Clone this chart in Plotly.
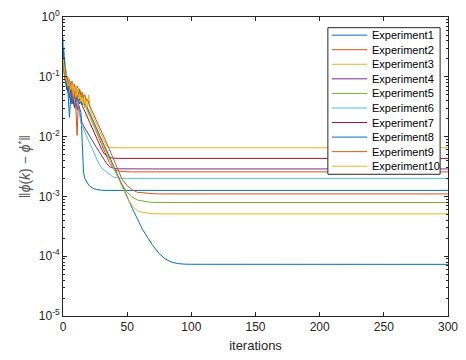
import plotly.graph_objects as go

# ---------------- data ----------------
iterations = list(range(0, 25)) + [26, 28, 30, 32, 34, 36, 38, 40, 43, 46, 50, 54, 58,
                                   62, 66, 70, 75, 80, 85, 90, 95, 100, 300]

exp1 = [0.35, 0.18, 0.10, 0.07, 0.05, 0.021, 0.045, 0.05, 0.035, 0.05, 0.038, 0.045, 0.035,
        0.029, 0.025, 0.0079, 0.0025, 0.002, 0.0018, 0.00165, 0.00155, 0.00147, 0.00142, 0.00138, 0.00135,
        0.00131, 0.00128, 0.00127, 0.00126, 0.00126, 0.00126, 0.00126, 0.00126, 0.00126, 0.00126,
        0.00126, 0.00126, 0.00126, 0.00126, 0.00126, 0.00126, 0.00126, 0.00126, 0.00126, 0.00126,
        0.00126, 0.00126, 0.00126]
exp2 = [0.25, 0.18, 0.12, 0.10, 0.08, 0.09, 0.07, 0.085, 0.06, 0.075, 0.055, 0.07, 0.063,
        0.056, 0.049, 0.0437, 0.039, 0.0347, 0.0302, 0.0269, 0.024, 0.0214, 0.019, 0.0168, 0.0148,
        0.0117, 0.0093, 0.0072, 0.0058, 0.0046, 0.0037, 0.0032, 0.0028, 0.00265, 0.0026, 0.00258,
        0.00257, 0.00257, 0.00257, 0.00257, 0.00257, 0.00257, 0.00257, 0.00257, 0.00257, 0.00257,
        0.00257, 0.00257]
exp3 = [0.22, 0.15, 0.11, 0.09, 0.10, 0.07, 0.085, 0.06, 0.075, 0.05, 0.07, 0.045, 0.06,
        0.04, 0.055, 0.035, 0.05, 0.03, 0.045, 0.028, 0.05, 0.03, 0.025, 0.0225, 0.0204,
        0.0162, 0.0132, 0.0105, 0.0085, 0.0069, 0.0066, 0.0065, 0.0065, 0.0065, 0.0065, 0.0065,
        0.0065, 0.0065, 0.0065, 0.0065, 0.0065, 0.0065, 0.0065, 0.0065, 0.0065, 0.0065,
        0.0065, 0.0065]
exp4 = [0.15, 0.10, 0.08, 0.06, 0.065, 0.045, 0.055, 0.035, 0.045, 0.03, 0.04, 0.028, 0.035,
        0.025, 0.02, 0.0166, 0.0151, 0.0138, 0.0126, 0.0117, 0.0107, 0.01, 0.0091, 0.0085, 0.0078,
        0.0066, 0.0056, 0.0048, 0.0041, 0.00355, 0.00316, 0.00299, 0.00292, 0.00289, 0.00288,
        0.00288, 0.00288, 0.00288, 0.00288, 0.00288, 0.00288, 0.00288, 0.00288, 0.00288, 0.00288,
        0.00288, 0.00288, 0.00288]
exp5 = [0.16, 0.11, 0.08, 0.09, 0.065, 0.075, 0.055, 0.07, 0.05, 0.065, 0.048, 0.06, 0.05,
        0.063, 0.045, 0.05, 0.038, 0.035, 0.031, 0.0282, 0.0251, 0.0228, 0.0204, 0.0182, 0.0162,
        0.0132, 0.0107, 0.0085, 0.0069, 0.0055, 0.00447, 0.00363, 0.00288, 0.00214, 0.00158,
        0.00117, 0.00098, 0.00087, 0.00083, 0.00081, 0.000795, 0.00079, 0.00079, 0.00079, 0.00079,
        0.00079, 0.00079, 0.00079]
exp6 = [0.47, 0.22, 0.13, 0.10, 0.075, 0.085, 0.06, 0.07, 0.05, 0.06, 0.04, 0.045, 0.03,
        0.022, 0.0166, 0.0148, 0.0132, 0.0117, 0.0105, 0.0093, 0.0083, 0.0074, 0.0066, 0.0059, 0.0052,
        0.0042, 0.0035, 0.003, 0.00275, 0.00257, 0.00234, 0.00219, 0.00209, 0.00202, 0.002,
        0.002, 0.002, 0.002, 0.002, 0.002, 0.002, 0.002, 0.002, 0.002, 0.002,
        0.002, 0.002, 0.002]
exp7 = [0.30, 0.15, 0.10, 0.09, 0.07, 0.08, 0.055, 0.065, 0.05, 0.06, 0.045, 0.05, 0.04,
        0.042, 0.036, 0.033, 0.0295, 0.0263, 0.0234, 0.0209, 0.0186, 0.0166, 0.0151, 0.0135, 0.012,
        0.0095, 0.0076, 0.0062, 0.0052, 0.0048, 0.00452, 0.0044, 0.00434, 0.00432, 0.00432,
        0.00432, 0.00432, 0.00432, 0.00432, 0.00432, 0.00432, 0.00432, 0.00432, 0.00432, 0.00432,
        0.00432, 0.00432, 0.00432]
exp8 = [0.30, 0.15, 0.09, 0.06, 0.075, 0.05, 0.035, 0.06, 0.045, 0.03, 0.05, 0.04, 0.045,
        0.035, 0.04, 0.034, 0.036, 0.033, 0.032, 0.0302, 0.0269, 0.0245, 0.0219, 0.0195, 0.0174,
        0.0141, 0.0112, 0.0091, 0.0072, 0.0059, 0.0047, 0.0038, 0.003, 0.0022, 0.00158,
        0.001, 0.00063, 0.00042, 0.00028, 0.000204, 0.000151, 0.00011, 0.000089, 0.000079, 0.000075,
        0.0000736, 0.0000733, 0.000073]
exp9 = [0.20, 0.12, 0.09, 0.10, 0.07, 0.06, 0.08, 0.05, 0.04, 0.055, 0.03, 0.0105, 0.045,
        0.06, 0.05, 0.055, 0.045, 0.05, 0.04, 0.042, 0.0355, 0.032, 0.0288, 0.026, 0.0234,
        0.019, 0.0155, 0.0123, 0.0098, 0.0078, 0.0062, 0.0049, 0.0038, 0.00263, 0.00195,
        0.00151, 0.00129, 0.00117, 0.00114, 0.00112, 0.00111, 0.0011, 0.0011, 0.0011, 0.0011,
        0.0011, 0.0011, 0.0011]
exp10 = [0.20, 0.13, 0.10, 0.085, 0.07, 0.08, 0.06, 0.075, 0.05, 0.065, 0.045, 0.06, 0.042,
         0.05, 0.038, 0.045, 0.034, 0.04, 0.03, 0.0263, 0.024, 0.0216, 0.0195, 0.0174, 0.0155,
         0.0126, 0.0102, 0.0081, 0.0066, 0.0052, 0.0043, 0.0035, 0.00275, 0.002, 0.00145,
         0.00095, 0.00069, 0.000575, 0.00054, 0.00052, 0.000512, 0.00051, 0.00051, 0.00051, 0.00051,
         0.00051, 0.00051, 0.00051]

series_names = ["Experiment1", "Experiment2", "Experiment3", "Experiment4", "Experiment5",
                "Experiment6", "Experiment7", "Experiment8", "Experiment9", "Experiment10"]
series_values = [exp1, exp2, exp3, exp4, exp5, exp6, exp7, exp8, exp9, exp10]

x_ticks = [0, 50, 100, 150, 200, 250, 300]
y_ticks = [1e-5, 1e-4, 1e-3, 1e-2, 1e-1, 1e0]
y_tick_labels = ["10<sup>-5</sup>", "10<sup>-4</sup>", "10<sup>-3</sup>",
                 "10<sup>-2</sup>", "10<sup>-1</sup>", "10<sup>0</sup>"]

# ---------------- styling ----------------
colors = ["#0072BD", "#D95319", "#EDB120", "#7E2F8E", "#77AC30",
          "#4DBEEE", "#A2142F", "#0072BD", "#D95319", "#EDB120"]
FONT = "Liberation Sans, Arial, Helvetica, sans-serif"
AX = "#262626"

W, H = 466, 360
L, R, T, B = 63, 12, 8, 44
PW, PH = W - L - R, H - T - B


def px_x(px):
    return (px - L) / PW


def px_y(py):
    return (H - B - py) / PH


fig = go.Figure()
for name, vals, c in zip(series_names, series_values, colors):
    fig.add_trace(go.Scatter(x=iterations, y=vals, mode="lines", name=name,
                             line=dict(color=c, width=1), showlegend=False))

minor_vals = [m * 10.0 ** e for e in range(-5, 0) for m in range(2, 10)]

fig.update_layout(
    width=W, height=H, autosize=False,
    margin=dict(l=L, r=R, t=T, b=B, pad=0),
    paper_bgcolor="white", plot_bgcolor="white",
    font=dict(family=FONT, size=12, color=AX),
    xaxis=dict(range=[0, 300], tickvals=x_ticks, ticks="inside", ticklen=4,
               tickcolor=AX, showline=True, linecolor=AX, linewidth=1, mirror="allticks",
               showgrid=False, zeroline=False,
               tickfont=dict(size=12, color=AX),
               title=dict(text="iterations", font=dict(size=13, color=AX), standoff=7)),
    yaxis=dict(type="log", range=[-5, 0], tickvals=y_ticks, ticktext=y_tick_labels,
               ticks="inside", ticklen=4, tickcolor=AX, showline=True, linecolor=AX,
               linewidth=1, mirror="allticks", showgrid=False, zeroline=False,
               tickfont=dict(size=12, color=AX),
               minor=dict(tickvals=minor_vals, ticks="inside", ticklen=2, tickcolor=AX,
                          showgrid=False),
               title=dict(text="‖<i>ϕ</i>(<i>k</i>) − <i>ϕ</i><sup>*</sup>‖",
                          font=dict(size=14, color="#595959"), standoff=4)),
)

# legend drawn as a boxed list (MATLAB-like compact spacing)
box_l, box_r, box_t, box_b = 332, 446, 19, 170
row0, row_step = 26.7, 15.0
fig.add_shape(type="rect", xref="paper", yref="paper",
              x0=px_x(box_l), x1=px_x(box_r), y0=px_y(box_b), y1=px_y(box_t),
              fillcolor="white", line=dict(color="#262626", width=1), layer="above")
for i, (name, c) in enumerate(zip(series_names, colors)):
    yy = px_y(row0 + i * row_step)
    fig.add_shape(type="line", xref="paper", yref="paper",
                  x0=px_x(336), x1=px_x(372), y0=yy, y1=yy,
                  line=dict(color=c, width=1), layer="above")
    fig.add_annotation(xref="paper", yref="paper", x=px_x(375), y=yy,
                       text=name, showarrow=False, xanchor="left", yanchor="middle",
                       font=dict(family=FONT, size=11, color="black"))

fig.write_html("out.html", config={"displayModeBar": False})
